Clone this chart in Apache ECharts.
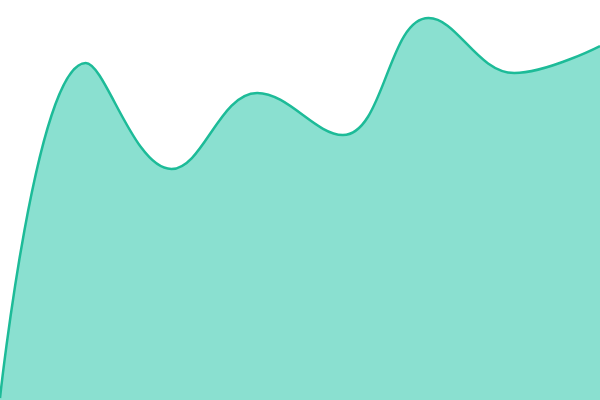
<!DOCTYPE html>
<html><head><meta charset="utf-8">
<script src="https://cdn.jsdelivr.net/npm/echarts@6/dist/echarts.min.js"></script>
<style>html,body{margin:0;padding:0;background:#fff}#c{width:600px;height:400px}</style>
</head><body><div id="c"></div>
<script>
const categories = ['A','B','C','D','E','F','G','H'];
const values = [2, 337, 231, 307, 265, 382, 327, 354];
const chart = echarts.init(document.getElementById('c'), null, {renderer:'canvas'});
chart.setOption({
  animation:false,
  grid:{left:0,right:0,top:0,bottom:0},
  xAxis:{type:'category',data:categories,boundaryGap:false,show:false},
  yAxis:{type:'value',min:0,max:400,show:false},
  series:[{type:'line',data:values,smooth:0.4,symbol:'none',
    lineStyle:{color:'#1dbb98',width:2.5},
    areaStyle:{color:'#8ae0d0',opacity:1}}]
});
</script></body></html>
